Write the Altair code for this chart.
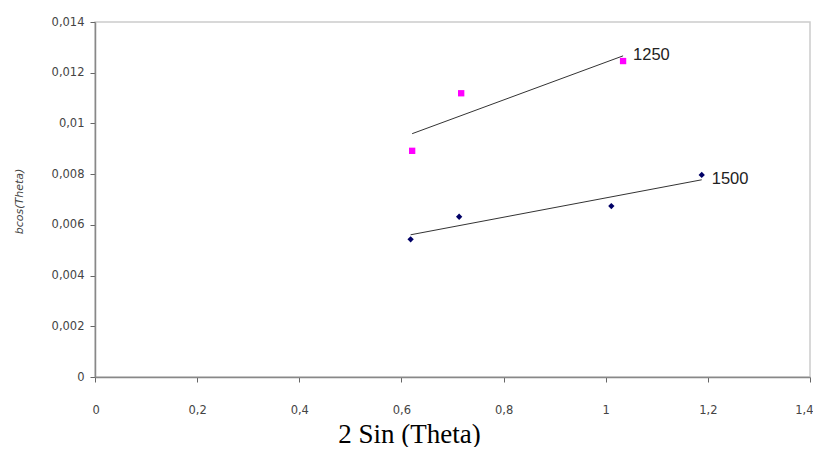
import altair as alt
import pandas as pd

series_names = ["1250", "1500"]
x_1250 = [0.621, 0.717, 1.034]
y_1250 = [0.00892, 0.01119, 0.01246]
x_1500 = [0.618, 0.713, 1.011, 1.188]
y_1500 = [0.00543, 0.00632, 0.00674, 0.00797]
x_ticks = [0, 0.2, 0.4, 0.6, 0.8, 1.0, 1.2, 1.4]
y_ticks = [0, 0.002, 0.004, 0.006, 0.008, 0.010, 0.012, 0.014]

rows = []
for xv, yv in zip(x_1250, y_1250):
    rows.append({"x": xv, "y": yv, "series": "1250"})
for xv, yv in zip(x_1500, y_1500):
    rows.append({"x": xv, "y": yv, "series": "1500"})
df = pd.DataFrame(rows)

xscale = alt.Scale(domain=[0, 1.4], nice=False, zero=True)
yscale = alt.Scale(domain=[0, 0.014], nice=False, zero=True)

xaxis = alt.Axis(
    values=x_ticks,
    labelExpr="replace(format(datum.value, '.1~f'), '.', ',')",
    title="2 Sin (Theta)",
    titleFont="Liberation Serif",
    titleFontSize=27,
    titleFontWeight="normal",
    titleColor="#000000",
    titleX=314,
    titleY=65,
    titleAlign="center",
    titleBaseline="alphabetic",
    grid=False,
    tickSize=5,
    tickColor="#666666",
    domainColor="#888888",
    domainWidth=1.5,
    labelPadding=22,
    labelFlush=True,
    labelFlushOffset=3,
    labelFont="DejaVu Sans",
    labelFontSize=11.5,
    labelColor="#444444",
)
yaxis = alt.Axis(
    values=y_ticks,
    labelExpr="replace(format(datum.value, '.3~f'), '.', ',')",
    title="bcos(Theta)",
    titleFont="DejaVu Sans",
    titleFontSize=11,
    titleFontStyle="italic",
    titleFontWeight="normal",
    titleColor="#444444",
    titleX=-76,
    titleY=179,
    titleAlign="center",
    titleBaseline="middle",
    grid=False,
    tickSize=5,
    tickColor="#666666",
    domainColor="#888888",
    domainWidth=1.5,
    labelPadding=6,
    labelFont="DejaVu Sans",
    labelFontSize=11.5,
    labelColor="#444444",
)

color = alt.Color("series:N", scale=alt.Scale(domain=series_names, range=["#ff00ff", "#000066"]), legend=None)
shape = alt.Shape("series:N", scale=alt.Scale(domain=series_names, range=["square", "diamond"]), legend=None)

base = alt.Chart(df)

points = base.mark_point(filled=True, size=40, opacity=1).encode(
    x=alt.X("x:Q", scale=xscale, axis=xaxis),
    y=alt.Y("y:Q", scale=yscale, axis=yaxis),
    color=color,
    shape=shape,
)

reg = base.transform_regression("x", "y", groupby=["series"], method="linear")

lines = reg.mark_line(color="#333333", strokeWidth=1).encode(
    x=alt.X("x:Q", scale=xscale),
    y=alt.Y("y:Q", scale=yscale),
    detail="series:N",
)

labels = reg.transform_joinaggregate(
    xmax="max(x)", groupby=["series"]
).transform_filter("datum.x == datum.xmax").mark_text(
    align="left", baseline="middle", dx=10, dy=-1,
    font="Liberation Sans", fontSize=16.5, color="#222222",
).encode(
    x=alt.X("x:Q", scale=xscale),
    y=alt.Y("y:Q", scale=yscale),
    text="series:N",
)

chart = alt.layer(lines, points, labels).properties(
    width=715,
    height=355,
    autosize=alt.AutoSizeParams(type="none"),
    padding={"left": 87, "top": 14, "right": 3, "bottom": 70},
    background="white",
).configure_view(stroke="#cccccc", strokeWidth=1.5)

chart.save("out.html", embed_options={"renderer": "svg", "actions": False})
